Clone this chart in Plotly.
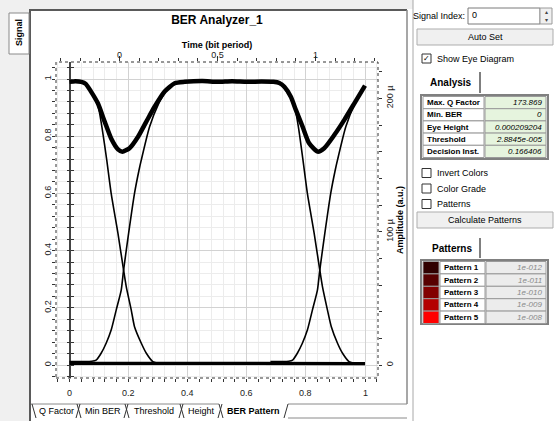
import plotly.graph_objects as go

# ---------------- data ----------------
x_ticks = [0, 0.2, 0.4, 0.6, 0.8, 1]
x_tick_labels = ["0", "0.2", "0.4", "0.6", "0.8", "1"]
y_ticks = [0, 0.2, 0.4, 0.6, 0.8, 1]
y_tick_labels = ["0", "0.2", "0.4", "0.6", "0.8", "1"]
time_ticks = [0, 0.5, 1]
time_tick_labels = ["0", "0.5", "1"]
amp_ticks = [0, 100e-6, 200e-6]
amp_tick_labels = ["0", "100 µ", "200 µ"]

# upper rail (thick band with the two ISI dips)
top_x = [0.0, 0.02, 0.04, 0.055, 0.073, 0.096, 0.119, 0.141, 0.164, 0.179, 0.203,
         0.232, 0.260, 0.288, 0.322, 0.356, 0.39, 0.45, 0.5, 0.55, 0.6, 0.65, 0.69,
         0.71, 0.727, 0.749, 0.766, 0.789, 0.811, 0.840, 0.862, 0.896, 0.930, 0.964, 1.0]
top_y = [0.99, 0.992, 0.99, 0.983, 0.956, 0.915, 0.851, 0.792, 0.754, 0.746, 0.758,
         0.798, 0.851, 0.903, 0.956, 0.985, 0.99, 0.993, 0.99, 0.992, 0.99, 0.991, 0.99,
         0.986, 0.973, 0.938, 0.892, 0.833, 0.775, 0.746, 0.758, 0.804, 0.857, 0.915, 0.977]

# lower rail
bot_x = [0.0, 0.1, 0.2, 0.3, 0.4, 0.5, 0.6, 0.7, 0.8, 0.9, 1.0]
bot_y = [0.006, 0.006, 0.005, 0.004, 0.005, 0.005, 0.005, 0.005, 0.005, 0.004, 0.005]

# transitions, first crossing
fall1_x = [0.06, 0.08, 0.096, 0.11, 0.126, 0.141, 0.164, 0.183, 0.192, 0.209, 0.220,
           0.243, 0.26, 0.282, 0.30, 0.33]
fall1_y = [0.975, 0.945, 0.91, 0.83, 0.717, 0.60, 0.46, 0.332, 0.274, 0.192, 0.134,
           0.076, 0.041, 0.012, 0.006, 0.005]
rise1_x = [0.0, 0.05, 0.075, 0.090, 0.107, 0.124, 0.141, 0.158, 0.175, 0.183, 0.20,
           0.220, 0.235, 0.243, 0.271, 0.302, 0.33]
rise1_y = [0.012, 0.012, 0.013, 0.017, 0.041, 0.076, 0.122, 0.192, 0.262, 0.332, 0.46,
           0.60, 0.68, 0.717, 0.833, 0.915, 0.965]

# transitions, second crossing
fall2_x = [0.72, 0.742, 0.760, 0.775, 0.790, 0.805, 0.828, 0.847, 0.856, 0.873, 0.886,
           0.907, 0.924, 0.946, 0.965, 0.99]
fall2_y = [0.978, 0.945, 0.912, 0.83, 0.717, 0.60, 0.46, 0.332, 0.274, 0.192, 0.134,
           0.076, 0.041, 0.012, 0.006, 0.005]
rise2_x = [0.68, 0.72, 0.742, 0.755, 0.771, 0.788, 0.805, 0.822, 0.839, 0.847, 0.864,
           0.884, 0.899, 0.907, 0.935, 0.966, 0.995]
rise2_y = [0.012, 0.012, 0.013, 0.017, 0.041, 0.076, 0.122, 0.192, 0.262, 0.332, 0.46,
           0.60, 0.68, 0.717, 0.833, 0.915, 0.968]

analysis_names = ["Max. Q Factor", "Min. BER", "Eye Height", "Threshold", "Decision Inst."]
analysis_values = ["173.869", "0", "0.000209204", "2.8845e-005", "0.166406"]
pattern_names = ["Pattern 1", "Pattern 2", "Pattern 3", "Pattern 4", "Pattern 5"]
pattern_values = ["1e-012", "1e-011", "1e-010", "1e-009", "1e-008"]
pattern_colors = ["#300000", "#580000", "#820000", "#b40000", "#ff0000"]
tab_names = ["Q Factor", "Min BER", "Threshold", "Height", "BER Pattern"]
tab_edges = [(32, 80), (77, 128), (125, 183), (180, 222), (219, 288)]
checkbox_labels = ["Invert Colors", "Color Grade", "Patterns"]

# ---------------- geometry helpers (pixel -> paper) ----------------
W_PX, H_PX = 554, 421
L, R, T, B = 56, 378, 62, 378
PW, PH = R - L, B - T
FONT = "Liberation Sans"
FS = 9


def px(x):
    return (x - L) / PW


def py(y):
    return (B - y) / PH


shapes = []
annots = []


def rect(x0, y0, x1, y1, fill=None, line=None, lw=1, dash=None, layer="above"):
    d = dict(type="rect", xref="paper", yref="paper", x0=px(x0), x1=px(x1),
             y0=py(y1), y1=py(y0), layer=layer,
             line=dict(width=lw if line else 0, color=line or "rgba(0,0,0,0)"))
    if dash:
        d["line"]["dash"] = dash
    if fill:
        d["fillcolor"] = fill
    shapes.append(d)


def seg(x0, y0, x1, y1, color="#808080", lw=1):
    shapes.append(dict(type="line", xref="paper", yref="paper", x0=px(x0), x1=px(x1),
                       y0=py(y0), y1=py(y1), line=dict(color=color, width=lw)))


def text(x, y, s, size=FS, color="#000000", anchor="left", angle=0):
    annots.append(dict(xref="paper", yref="paper", x=px(x), y=py(y), text=s,
                       showarrow=False, xanchor=anchor, yanchor="middle", textangle=angle,
                       font=dict(family=FONT, size=size, color=color)))


# ---------------- figure ----------------
fig = go.Figure()
common = dict(mode="lines", hoverinfo="skip", showlegend=False)
fig.add_trace(go.Scatter(x=bot_x, y=bot_y, line=dict(color="#000000", width=3.2), **common))
for xs, ys in [(fall1_x, fall1_y), (rise1_x, rise1_y), (fall2_x, fall2_y), (rise2_x, rise2_y)]:
    fig.add_trace(go.Scatter(x=xs, y=ys, line=dict(color="#000000", width=1.6,
                                                   shape="spline", smoothing=0.6), **common))
fig.add_trace(go.Scatter(x=top_x, y=top_y, line=dict(color="#000000", width=4.5,
                                                     shape="spline", smoothing=0.6), **common))
# invisible anchors for the secondary axes
ghost = dict(mode="markers", marker=dict(opacity=0), hoverinfo="skip", showlegend=False)
fig.add_trace(go.Scatter(x=[0.5], y=[100e-6], xaxis="x2", yaxis="y2", **ghost))
fig.add_trace(go.Scatter(x=[0.5], y=[0.5], xaxis="x", yaxis="y3", **ghost))
fig.add_trace(go.Scatter(x=[0.5], y=[0.5], xaxis="x", yaxis="y4", **ghost))
fig.add_trace(go.Scatter(x=[0.5], y=[0.5], xaxis="x3", yaxis="y", **ghost))

XR = [(L - 69.5) / 295.5, (R - 69.5) / 295.5]
YR = [-(B - 365) / 286, (365 - T) / 286]
AR = [-(B - 365) / 1.3333 * 1e-6, (365 - T) / 1.3333 * 1e-6]
TR = [(L - 119.5) / 196, (R - 119.5) / 196]
pos0 = (69.5 - L) / PW

tickfont = dict(family=FONT, size=FS, color="#222222")

# bottom tick labels placed on the data scale of the bottom axis
for v, lab in zip(x_ticks, x_tick_labels):
    annots.append(dict(xref="x", yref="paper", x=v, y=py(393), text=lab, showarrow=False,
                       xanchor="center", yanchor="middle",
                       font=dict(family=FONT, size=FS, color="#222222")))

fig.update_layout(
    width=W_PX, height=H_PX, template="none",
    margin=dict(l=L, r=W_PX - R, t=T, b=H_PX - B, pad=0),
    paper_bgcolor="#ffffff", plot_bgcolor="#ffffff",
    showlegend=False,
    title=dict(text="<b>BER Analyzer_1</b>", x=px(217), xref="paper", xanchor="center",
               y=1 - 20 / H_PX, yref="container", yanchor="middle",
               font=dict(family=FONT, size=12, color="#000000")),
    xaxis=dict(range=XR, tickvals=x_ticks, ticktext=x_tick_labels, showticklabels=False,
               showgrid=True, gridcolor="#d2d2d2", gridwidth=1, zeroline=True,
               zerolinecolor="#444444", zerolinewidth=1.5, showline=False, ticks="",
               automargin=False,
               minor=dict(dtick=0.04, tick0=0, showgrid=True, gridcolor="#ececec")),
    # bottom frame tick marks
    xaxis3=dict(range=XR, overlaying="x", anchor="y", side="bottom", dtick=0.04, tick0=0,
                showticklabels=False, showgrid=False, zeroline=False, showline=False,
                ticks="outside", ticklen=3, tickcolor="#333333"),
    xaxis2=dict(range=TR, overlaying="x", side="top", anchor="y", tickvals=time_ticks,
                ticktext=time_tick_labels, showgrid=False, zeroline=False, showline=False,
                ticks="outside", ticklen=5, tickcolor="#333333", tickfont=tickfont,
                automargin=False, ticklabelstandoff=-6,
                title=dict(text="<b>Time (bit period)</b>", standoff=0,
                           font=dict(family=FONT, size=FS, color="#000000")),
                minor=dict(dtick=0.1, tick0=0, showgrid=False, ticks="outside", ticklen=3,
                           tickcolor="#333333")),
    yaxis=dict(range=YR, tickvals=y_ticks, ticktext=y_tick_labels, tickangle=-90,
               showgrid=True, gridcolor="#d2d2d2", zeroline=False, showline=False,
               ticks="outside", ticklen=3, tickcolor="#333333", tickfont=tickfont,
               automargin=False, ticklabelstandoff=-3,
               minor=dict(dtick=0.04, tick0=0, showgrid=True, gridcolor="#ececec",
                          ticks="outside", ticklen=3, tickcolor="#333333")),
    yaxis2=dict(range=AR, overlaying="y", side="right", anchor="x2", tickvals=amp_ticks,
                ticktext=amp_tick_labels, tickangle=-90, showgrid=False, zeroline=False,
                showline=False, ticks="outside", ticklen=3, tickcolor="#333333",
                tickfont=tickfont, automargin=False,
                title=dict(text="<b>Amplitude (a.u.)</b>", standoff=2,
                           font=dict(family=FONT, size=FS, color="#000000")),
                minor=dict(dtick=20e-6, tick0=0, showgrid=False, ticks="outside",
                           ticklen=3, tickcolor="#333333")),
    yaxis3=dict(range=YR, overlaying="y", anchor="free", position=pos0, side="left",
                showticklabels=False, showgrid=False, zeroline=False, showline=False,
                ticks="outside", ticklen=3, tickcolor="#333333", dtick=0.04, tick0=0),
    yaxis4=dict(range=YR, overlaying="y", anchor="free", position=pos0, side="right",
                showticklabels=False, showgrid=False, zeroline=False, showline=False,
                ticks="outside", ticklen=3, tickcolor="#333333", dtick=0.04, tick0=0),
)

# ---- window chrome ----
rect(0, 0, 30, 421, fill="#f0f0f0", layer="below")
rect(0, 0, 413, 9, fill="#f0f0f0", layer="below")
# plot frame (dotted look)
rect(L, T, R, B, line="#333333", lw=1, dash="dot")
# main panel frame
seg(30, 9, 30, 421, "#5a5a5a", 2)
seg(30, 10, 407, 10, "#5a5a5a", 2)
seg(407, 10, 407, 404, "#8a8a8a", 1.5)
# left "Signal" tab
rect(9, 13, 29, 54, fill="#ffffff", line="#8a8a8a", lw=1)
text(19, 33, "<b>Signal</b>", size=FS, anchor="center", angle=-90)

# bottom tabs
seg(31, 404, 219, 404, "#8a8a8a", 1)
seg(288, 404, 407, 404, "#8a8a8a", 1)
seg(288, 418, 407, 418, "#8a8a8a", 1)
for (a, b), name in zip(tab_edges, tab_names):
    seg(a, 404, a + 4, 418, "#333333", 1)
    seg(b - 4, 418, b, 404, "#333333", 1)
    label = "<b>%s</b>" % name if name == "BER Pattern" else name
    text((a + b) / 2, 411, label, size=FS, anchor="center")

# ---- right panel ----
seg(413, 0, 413, 421, "#a8a8a8", 1)
text(467, 16, "Signal Index:", anchor="right")
rect(468, 8, 540, 24, fill="#ffffff", line="#7a7a7a", lw=1)
text(470, 15, "0")
rect(540, 8, 552, 24, fill="#f0f0f0", line="#9a9a9a", lw=1)
text(546, 12, "▴", size=6, anchor="center", color="#444444")
text(546, 20, "▾", size=6, anchor="center", color="#444444")
rect(417, 29, 553, 45, fill="#f0f0f0", line="#adadad", lw=1)
text(485, 37, "Auto Set", anchor="center")
rect(422, 54, 431, 63, fill="#ffffff", line="#333333", lw=1)
text(426.5, 58.5, "✓", size=8, anchor="center")
text(435, 59, "Show Eye Diagram")

# Analysis tab + table
seg(480, 72, 480, 93, "#555555", 1.5)
text(428, 82, "<b>Analysis</b>", size=10)
rect(421, 95, 548, 159, fill="#ffffff", line="#808080", lw=2)
row_h = 12.2
for i, (n, v) in enumerate(zip(analysis_names, analysis_values)):
    y0 = 96.5 + i * row_h
    rect(423, y0, 484, y0 + row_h, fill="#ffffff", line="#9a9a9a", lw=1)
    rect(485, y0, 546, y0 + row_h, fill="#e6f4de", line="#9a9a9a", lw=1)
    text(425, y0 + row_h / 2, "<b>%s</b>" % n, size=8)
    text(544, y0 + row_h / 2, "<i>%s</i>" % v, size=8, anchor="right")

# checkboxes
for i, lab in enumerate(checkbox_labels):
    yc = 173 + i * 15.5
    rect(422, yc - 4.5, 431, yc + 4.5, fill="#ffffff", line="#333333", lw=1)
    text(435, yc, lab)

rect(417, 212, 553, 228, fill="#f0f0f0", line="#adadad", lw=1)
text(485, 220, "Calculate Patterns", anchor="center")

# Patterns tab + table
seg(480, 238, 480, 258, "#555555", 1.5)
text(430, 248, "<b>Patterns</b>", size=10)
rect(421, 260, 548, 324, fill="#ffffff", line="#808080", lw=2)
for i, (n, v, c) in enumerate(zip(pattern_names, pattern_values, pattern_colors)):
    y0 = 261.5 + i * 12.4
    rect(423, y0, 439, y0 + 12.4, fill=c, line="#9a9a9a", lw=1)
    rect(440, y0, 485, y0 + 12.4, fill="#ffffff", line="#9a9a9a", lw=1)
    rect(486, y0, 546, y0 + 12.4, fill="#ececec", line="#9a9a9a", lw=1)
    text(442, y0 + 6.2, "<b>%s</b>" % n, size=8)
    text(544, y0 + 6.2, "<i>%s</i>" % v, size=8, anchor="right", color="#8a8a8a")

fig.update_layout(shapes=shapes, annotations=annots)
fig.write_html("out.html", config={"displayModeBar": False},
               post_script="document.body.style.margin='0';")
